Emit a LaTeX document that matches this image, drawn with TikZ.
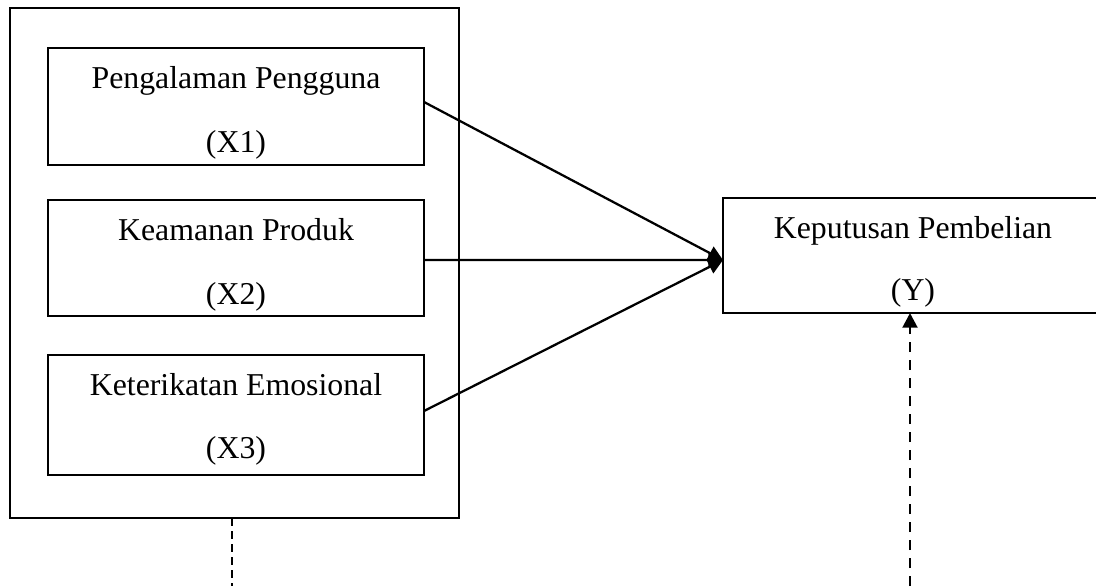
\documentclass[tikz,border=0pt]{standalone}
\usepackage{fontspec}
\setmainfont{Liberation Serif}
\usetikzlibrary{arrows.meta}

\begin{document}
\begin{tikzpicture}[x=0.75pt,y=0.75pt,yscale=-1,xscale=1,
  varbox/.style={draw, line width=2pt, inner sep=0pt, outer sep=0pt, minimum width=282pt},
  lbl/.style={anchor=base, inner sep=0pt, font=\fontsize{23.85}{28}\selectfont},
  arr/.style={line width=1.7pt, -{Triangle[length=11pt,width=11pt]}},
  dasharr/.style={line width=2.2pt, dash pattern={on 7.5pt off 6pt}, -{Triangle[length=11pt,width=11pt]}}]
\useasboundingbox (0,0) rectangle (1096,586);
\clip (0,0) rectangle (1096,586);

%Shape: outer frame
\node [draw, line width=2.2pt, inner sep=0pt, outer sep=0pt, minimum width=336.75pt, minimum height=382.5pt] (frame) at (234.5,263) {};
%Shape: variable boxes
\node [varbox, minimum height=87.75pt] (x1) at (236,106.5) {};
\node [varbox, minimum height=87pt] (x2) at (236,258) {};
\node [varbox, minimum height=90pt] (x3) at (236,415) {};
\node [varbox, minimum width=285pt, minimum height=86.25pt] (y) at (913,255.5) {};

% Text Node
\node [lbl] (x1a) at (236,88) {Pengalaman Pengguna};
\node [lbl] (x1b) at (236,152) {(X1)};
\node [lbl] (x2a) at (236,240) {Keamanan Produk};
\node [lbl] (x2b) at (236,304) {(X2)};
\node [lbl] (x3a) at (236,395) {Keterikatan Emosional};
\node [lbl] (x3b) at (236,458) {(X3)};
\node [lbl] (ya) at (913,238) {Keputusan Pembelian};
\node [lbl] (yb) at (913,300) {(Y)};

%Straight Lines: arrows to Y
\coordinate (yin) at ([yshift=3.4pt]y.west);
\draw [arr] ([yshift=-3.4pt]x1.east) -- (yin);
\draw [arr] ([yshift=1.5pt]x2.east) -- (yin);
\draw [arr] ([yshift=-3pt]x3.east) -- (yin);

%Straight Lines: dashed
\coordinate (fbot) at (232,586);
\draw [line width=1pt, dash pattern={on 6pt off 3.75pt}] (fbot |- frame.south) -- (fbot);
\coordinate (ybot) at (910,586);
\draw [dasharr] (ybot) -- (ybot |- y.south);

\end{tikzpicture}
\end{document}
